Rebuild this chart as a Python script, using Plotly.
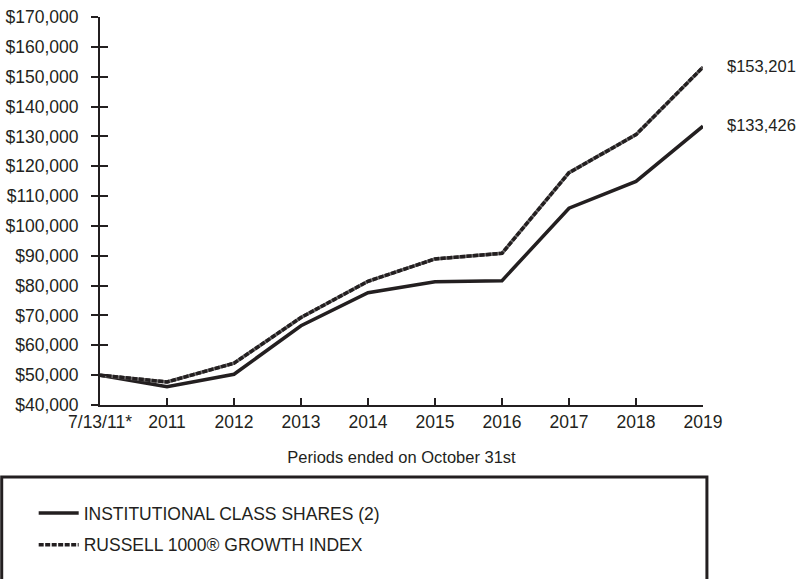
import plotly.graph_objects as go

periods = ["7/13/11*", "2011", "2012", "2013", "2014", "2015", "2016", "2017", "2018", "2019"]
institutional = [50000, 46150, 50300, 66550, 77600, 81320, 81650, 105940, 114900, 133426]
russell = [50000, 47730, 54000, 69330, 81450, 88940, 90820, 117830, 130590, 153201]
name_inst = "INSTITUTIONAL CLASS SHARES (2)"
name_russ = "RUSSELL 1000® GROWTH INDEX"
end_labels = ["$133,426", "$153,201"]
x_title = "Periods ended on October 31st"

INK = "#231f20"
FONT = "Liberation Sans, Arial, sans-serif"

fig = go.Figure()
fig.add_trace(go.Scatter(x=periods, y=institutional, mode="lines", name=name_inst,
                         line=dict(color=INK, width=3.5), cliponaxis=False,
                         legendgroup="a"))
fig.add_trace(go.Scatter(x=periods, y=russell, mode="lines", showlegend=False,
                         line=dict(color="#6d6a6a", width=3.5), cliponaxis=False,
                         hoverinfo="skip"))
fig.add_trace(go.Scatter(x=periods, y=russell, mode="lines", name=name_russ,
                         line=dict(color=INK, width=3.5, dash="5px,1.5px"),
                         cliponaxis=False, legendgroup="b"))
# overlay trace to carry the inside y ticks
fig.add_trace(go.Scatter(x=periods, y=russell, yaxis="y2", mode="lines",
                         line=dict(width=0), showlegend=False, hoverinfo="skip",
                         opacity=0))

for lbl, series in zip(end_labels, [institutional, russell]):
    fig.add_annotation(xref="paper", x=1, yref="y", y=series[-1], text=lbl,
                       showarrow=False, xanchor="left", xshift=22, yshift=1,
                       font=dict(size=16.5, color=INK, family=FONT))

fig.add_shape(type="rect", xref="paper", yref="paper",
              x0=-0.163, x1=1.0065, y0=-0.46, y1=-0.1856,
              line=dict(color=INK, width=3))

fig.update_layout(
    width=802, height=579,
    margin=dict(l=100, r=99, t=17, b=174, autoexpand=False),
    paper_bgcolor="white", plot_bgcolor="white",
    font=dict(family=FONT, size=17, color=INK),
    xaxis=dict(type="category", range=[0, 9], showgrid=False, zeroline=False,
               showline=True, linecolor=INK, linewidth=2,
               ticks="inside", ticklen=7, tickwidth=2, tickcolor=INK,
               tickangle=0, automargin=False,
               tickfont=dict(size=17.5, color=INK),
               title=dict(text=x_title, font=dict(size=16.5, color=INK), standoff=20)),
    yaxis=dict(range=[40000, 170000], dtick=10000, tickformat="$,.0f",
               showgrid=False, zeroline=False, showline=True, linecolor=INK,
               linewidth=2, ticks="outside", ticklen=7, tickwidth=2, tickcolor=INK,
               automargin=False,
               ticklabelstandoff=9, tickfont=dict(size=17.5, color=INK)),
    yaxis2=dict(range=[40000, 170000], dtick=10000, overlaying="y", side="left",
                anchor="x", showgrid=False, zeroline=False, showline=False,
                showticklabels=False, ticks="inside", ticklen=8, tickwidth=2,
                tickcolor=INK),
    legend=dict(xref="container", yref="container", x=0.042, y=1 - 495 / 579,
                xanchor="left", yanchor="top", bgcolor="rgba(0,0,0,0)",
                borderwidth=0, itemwidth=40, tracegroupgap=6,
                font=dict(size=17.5, color=INK, family=FONT)),
    showlegend=True,
)

fig.write_html("out.html")
